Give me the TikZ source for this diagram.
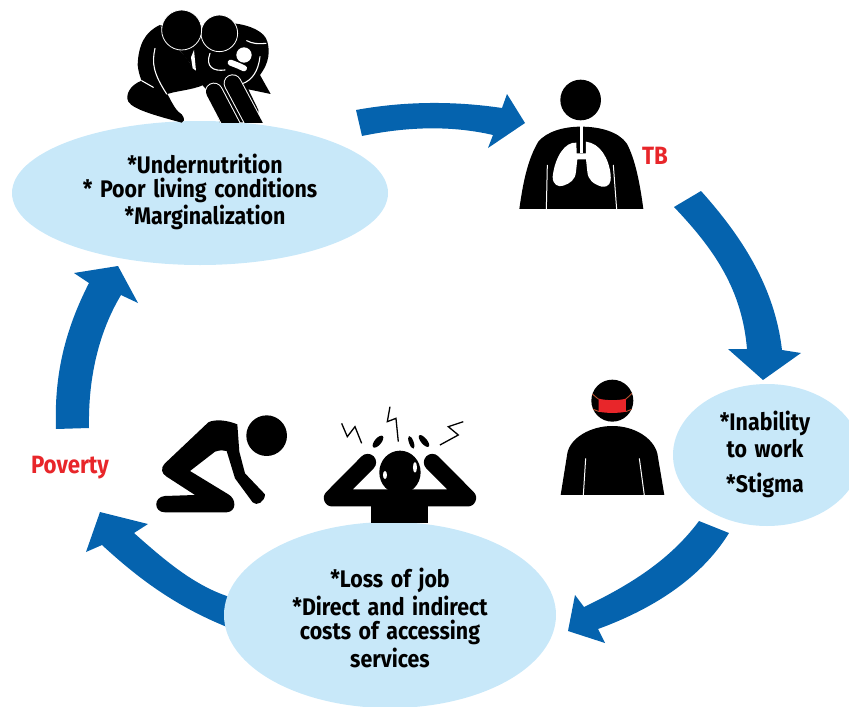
\documentclass[tikz,border=0pt]{standalone}
\usepackage{fontspec}
\setmainfont[FakeStretch=0.89,WordSpace=1.5]{Fira Sans}
\definecolor{arrowblue}{HTML}{0563AE}
\definecolor{bubble}{HTML}{C8E8F9}
\definecolor{alertred}{HTML}{E8262A}
\definecolor{strap}{HTML}{B5502F}
\tikzset{
  cyclearrow/.style={fill=arrowblue,draw=none},
  bubblefill/.style={fill=bubble,draw=none},
  label/.style={font=\fontsize{24}{26}\selectfont\bfseries,text=black,inner sep=0pt,anchor=center},
  redlabel/.style={font=\fontsize{25}{26}\selectfont\bfseries,text=alertred,inner sep=0pt,anchor=center},
  ink/.style={fill=black,draw=none},
  limb/.style={draw=black,line cap=round,line join=round},
  bolt/.style={draw=black,line width=1.3pt,line join=miter},
  gap/.style={draw=white,line width=1.1pt,line cap=round,line join=round}
}
\begin{document}
\begin{tikzpicture}[x=1pt,y=-1pt]
\useasboundingbox (0,0) rectangle (849,707);
% arrows
\fill[cyclearrow] (356,110) .. controls (405,101) and (455,101) .. (502,108) -- (507,94) -- (525,123) -- (488,148) -- (493,135) .. controls (450,125) and (405,127) .. (362,136) -- cycle;
\fill[cyclearrow] (701,191) .. controls (745,240) and (775,290) .. (782,350) -- (801,353) -- (763,380) -- (728,349) -- (747,349) .. controls (742,290) and (715,250) .. (674,207) -- cycle;
\fill[cyclearrow] (699,521) .. controls (670,560) and (630,585) .. (584,607) -- (575,595) -- (568,631) -- (605,643) -- (598,629) .. controls (650,610) and (700,580) .. (729,533) -- cycle;
\fill[cyclearrow] (240,600) .. controls (200,590) and (170,565) .. (134,533) -- (148,524) -- (100,512) -- (86,552) -- (102,545) .. controls (140,580) and (180,610) .. (240,632) -- cycle;
\fill[cyclearrow] (56,429) .. controls (54,375) and (65,330) .. (89,283) -- (74,273) -- (118,266) -- (138,303) -- (121,295) .. controls (100,330) and (88,375) .. (89,428) -- cycle;
% bubbles
\fill[bubblefill] (200,193) ellipse [x radius=188, y radius=72];
\fill[bubblefill] (767,455) ellipse [x radius=94, y radius=71];
\fill[bubblefill] (390,615) ellipse [x radius=166, y radius=93];
% family icon
\begin{scope}[shift={(110,0)},x=0.3333pt,y=-0.3333pt]
  % second adult, carrying the child
  \fill[ink] (250,205) -- (300,150) -- (370,70) .. controls (420,75) and (465,95) .. (472,125) .. controls (485,170) and (465,205) .. (450,225) -- (482,282) -- (415,268) -- (445,330) -- (445,366) -- (330,368) -- (290,270) -- (260,235) -- cycle;
  % first adult
  \fill[ink] (150,75) .. controls (105,95) and (85,135) .. (83,195) .. controls (85,215) and (90,230) .. (95,242) .. controls (60,255) and (45,285) .. (55,305) .. controls (70,330) and (150,350) .. (215,368) .. controls (228,362) and (222,345) .. (205,335) .. controls (190,320) and (180,295) .. (172,282) .. controls (210,270) and (260,270) .. (300,245) .. controls (285,225) and (250,215) .. (240,190) .. controls (215,150) and (170,120) .. (150,75) -- cycle;
  \fill[ink] (150,75) -- (300,110) -- (300,200) -- (260,240) -- (240,190) -- cycle;
  \fill[white] (243,172) -- (252,150) -- (258,212) -- (248,205) -- cycle;
  \draw[gap] (135,145) .. controls (125,190) and (130,220) .. (170,282);
  \draw[gap] (95,242) -- (130,262);
  \draw[gap] (410,122) .. controls (430,132) and (445,132) .. (468,130);
  \draw[gap] (300,160) .. controls (285,200) and (310,215) .. (345,210);
  \draw[gap] (450,170) .. controls (445,215) and (425,240) .. (400,250);
  \fill[white] (402,165) circle [radius=23];
  \draw[white,line width=6pt,line cap=round] (362,188) -- (385,197) -- (402,205);
  \begin{scope}
    \clip (0,0) rectangle (540,368);
    \draw[white,line width=18pt,line cap=round] (312,275) -- (375,395);
    \draw[black,line width=16pt,line cap=round] (312,275) -- (375,395);
    \draw[white,line width=18pt,line cap=round] (368,250) -- (440,385);
    \draw[black,line width=16pt,line cap=round] (368,250) -- (440,385);
  \end{scope}
  \fill[ink,draw=white,line width=0.8pt] (328,100) circle [radius=55];
  \fill[ink,draw=white,line width=0.8pt] (215,90) circle [radius=60];
\end{scope}
% TB icon
\begin{scope}[shift={(500,70)},x=0.3333pt,y=-0.3333pt]
  \fill[ink] (242,90) circle [radius=61];
  \fill[ink] (58,417) .. controls (70,330) and (85,265) .. (115,215) .. controls (140,185) and (190,170) .. (242,170) .. controls (300,170) and (355,185) .. (380,220) .. controls (405,265) and (420,340) .. (430,417) -- cycle;
  \draw[white,line width=3pt] (244,166) -- (244,250);
  \draw[white,line width=1pt] (142,285) -- (139,418);
  \draw[white,line width=1pt] (340,285) -- (350,418);
  \fill[white] (230,250) -- (229,218) .. controls (195,215) and (165,260) .. (158,320) .. controls (158,345) and (175,352) .. (190,347) .. controls (210,340) and (226,330) .. (228,305) -- (232,268) -- (258,268) -- (262,305) .. controls (264,330) and (280,342) .. (305,350) .. controls (327,352) and (334,340) .. (332,315) .. controls (327,265) and (300,220) .. (258,215) -- (258,250) -- cycle;
\end{scope}
% masked person
\begin{scope}[shift={(550,370)},x=0.3333pt,y=-0.3333pt]
  \fill[ink] (187,92) circle [radius=63];
  \draw[strap,line width=0.9pt] (127,72) -- (146,88) (246,70) -- (227,88) (130,118) -- (148,125) (245,118) -- (227,125);
  \fill[alertred] (146,86) .. controls (170,92) and (205,92) .. (228,86) -- (228,125) .. controls (205,130) and (170,130) .. (146,125) -- cycle;
  \fill[ink] (32,375) -- (52,250) .. controls (60,205) and (120,168) .. (187,168) .. controls (255,168) and (310,205) .. (322,250) -- (343,375) -- cycle;
  \draw[white,line width=1pt] (107,265) -- (100,376);
  \draw[white,line width=1pt] (268,265) -- (283,376);
\end{scope}
% kneeling person and stressed person
\begin{scope}[shift={(140,395)},x=0.3333pt,y=-0.3333pt]
  \fill[ink] (380,122) circle [radius=61];
  \fill[ink] (292,88) .. controls (260,75) and (225,72) .. (205,82) -- (75,205) .. controls (60,222) and (65,235) .. (80,245) -- (165,300) -- (75,303) .. controls (40,305) and (40,352) .. (75,352) -- (260,352) .. controls (290,350) and (290,312) .. (265,298) -- (150,228) -- (225,170) .. controls (240,165) and (250,165) .. (260,168) -- (285,250) -- (338,322) .. controls (350,335) and (375,320) .. (375,298) -- (315,235) -- (298,170) -- cycle;
  % stressed
  \fill[ink] (780,232) ellipse [x radius=62, y radius=65];
  \fill[ink] (692,290) rectangle (865,385);
  \draw[limb,line width=17pt] (683,202) -- (577,309) -- (983,309) -- (877,202);
  \fill[white] (735,240) ellipse [x radius=6, y radius=12];
  \fill[white] (825,217) ellipse [x radius=6, y radius=16];
  \fill[ink,rotate around={-40:(714,140)}] (714,140) ellipse [x radius=10, y radius=22];
  \fill[ink,rotate around={20:(814,142)}] (814,142) ellipse [x radius=7, y radius=20];
  \fill[ink,rotate around={40:(852,138)}] (852,138) ellipse [x radius=9, y radius=22];
  \draw[bolt] (605,85) -- (622,125) -- (645,95) -- (665,145);
  \draw[bolt] (750,35) -- (742,80) -- (768,70) -- (775,140);
  \draw[bolt] (970,80) -- (925,95) -- (955,120) -- (900,150);
\end{scope}
% texts
\node[label] (t1) at (205,164) {*Undernutrition};
\node[label] (t2) at (200,190) {* Poor living conditions};
\node[label] (t3) at (205,217) {*Marginalization};
\node[label] (t4) at (765,423) {*Inability};
\node[label] (t5) at (765,449) {to work};
\node[label] (t6) at (765,485) {*Stigma};
\node[label] (t7) at (390,580) {*Loss of job};
\node[label] (t8) at (390,606) {*Direct and indirect};
\node[label] (t9) at (390,632) {costs of accessing};
\node[label] (t10) at (390,658) {services};
\node[redlabel] (tb) at (655,156) {TB};
\node[redlabel] (pov) at (70,468) {Poverty};
\end{tikzpicture}
\end{document}
